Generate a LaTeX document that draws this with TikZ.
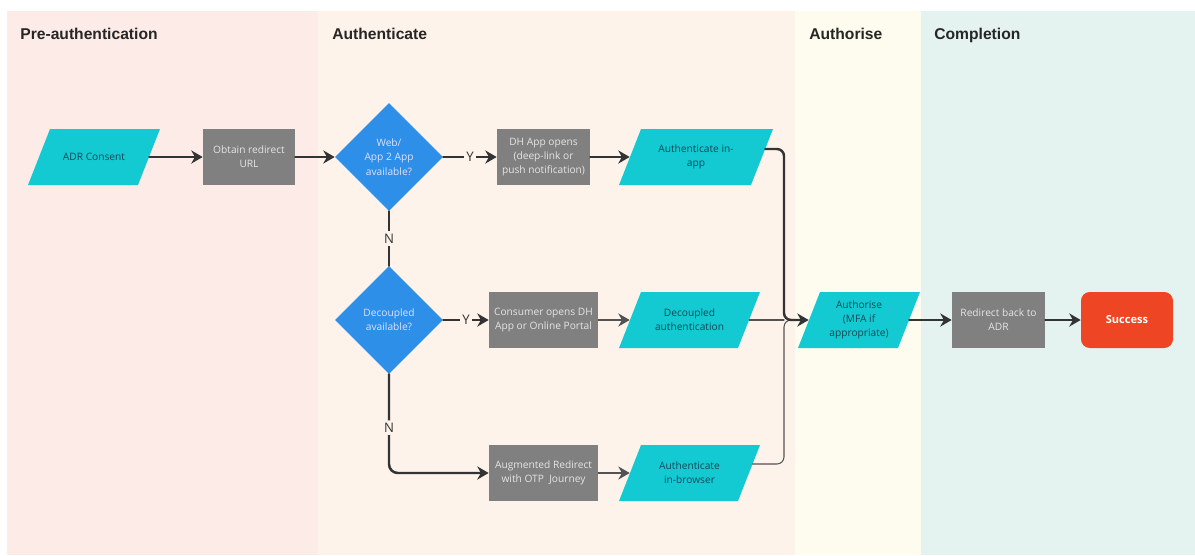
\documentclass[tikz,border=0pt]{standalone}
\usepackage{fontspec}
\setmainfont{Open Sans}
\newfontfamily\headfont{Liberation Sans}
\usetikzlibrary{shapes.geometric,arrows.meta,calc}

\definecolor{preauth}{RGB}{252,235,230}
\definecolor{authn}{RGB}{253,243,234}
\definecolor{authz}{RGB}{254,252,238}
\definecolor{complete}{RGB}{228,243,240}
\definecolor{cyanbox}{RGB}{19,201,210}
\definecolor{bluebox}{RGB}{45,143,232}
\definecolor{greybox}{RGB}{128,128,128}
\definecolor{redbox}{RGB}{238,70,36}
\definecolor{tealtext}{RGB}{22,72,86}
\definecolor{arrowcol}{RGB}{51,51,51}

\begin{document}
\begin{tikzpicture}[x=0.02cm, y=-0.02cm, >={Stealth[length=6.5pt,width=7.5pt]},
	line join=round, line cap=round, font=\fontsize{5.8}{8.1}\selectfont,
	lane/.style={anchor=base west, inner sep=0pt, text=black!85, font=\headfont\bfseries\fontsize{8.9}{10}\selectfont},
	io/.style={rectangle, text=tealtext, align=center, minimum height=1.12cm, inner sep=1pt,
		path picture={\fill[cyanbox] (path picture bounding box.south west)
			-- ([xshift=-\slant]path picture bounding box.south east) -- (path picture bounding box.north east)
			-- ([xshift=\slant]path picture bounding box.north west) -- cycle;}},
	task/.style={rectangle, fill=greybox, text=white!90!black, align=center, minimum height=1.12cm, inner sep=1pt},
	ask/.style={diamond, fill=bluebox, text=white!88!blue, align=center, minimum width=2.16cm, minimum height=2.16cm, inner sep=0pt},
	done/.style={rectangle, rounded corners=5pt, fill=redbox, text=white, minimum width=1.84cm, minimum height=1.12cm,
		font=\bfseries\fontsize{6.3}{8}\selectfont},
	link/.style={draw=arrowcol, line width=1.4pt},
	flow/.style={link, ->},
	flowthin/.style={draw=arrowcol!85, line width=0.6pt},
	toio/.style={shorten >=-0.22cm},
	fromio/.style={shorten <=-0.22cm},
	yn/.style={fill=authn, text=arrowcol, inner sep=1.5pt, font=\fontsize{7.5}{9}\selectfont}]
	\useasboundingbox (0,0) rectangle (1195,555);
	\def\top{11} \def\bot{555} % lane edges
	\def\slant{0.44cm} % lean of the cyan boxes

	% lanes
	\fill[preauth] (7,\top) rectangle (318,\bot);
	\fill[authn] (318,\top) rectangle (795,\bot);
	\fill[authz] (795,\top) rectangle (921,\bot);
	\fill[complete] (921,\top) rectangle (1195,\bot);
	\node[lane] (tpre) at (20,39) {Pre-authentication};
	\node[lane] (tauthn) at (332,39) {Authenticate};
	\node[lane] (tauthz) at (809,39) {Authorise};
	\node[lane] (tdone) at (934,39) {Completion};

	\node[io, minimum width=2.64cm] (adr) at (94,157) {ADR Consent};
	\node[task, minimum width=1.84cm] (obtain) at (249,157) {Obtain redirect\\URL};
	\node[ask] (webapp) at (389,157) {Web/\\App 2 App\\available?};
	\node[task, minimum width=1.86cm] (dhapp) at (543.5,157) {DH App opens\\(deep-link or\\push notification)};
	\node[io, minimum width=3.08cm] (inapp) at (696,157) {Authenticate in-\\app};

	\node[ask] (decoup) at (389,320) {Decoupled\\available?};
	\node[task, minimum width=2.18cm] (consumer) at (543.5,320) {Consumer opens DH\\App or Online Portal};
	\node[io, minimum width=2.82cm] (decauth) at (689.5,320) {Decoupled\\authentication};
	\node[io, minimum width=2.44cm] (authorise) at (859,320) {Authorise\\(MFA if\\appropriate)};
	\node[task, minimum width=1.86cm] (redirect) at (998.5,320) {Redirect back to\\ADR};
	\node[done] (success) at (1127,320) {Success};

	\node[task, minimum width=2.18cm] (augment) at (543.5,473) {Augmented Redirect\\with OTP\ \ Journey};
	\node[io, minimum width=2.82cm] (browser) at (689.5,473) {Authenticate\\in-browser};

	\draw[flow, fromio] (adr) -- (obtain);
	\draw[flow] (obtain) -- (webapp);
	\draw[flow] (webapp) -- node[yn]{Y} (dhapp);
	\draw[flow, toio] (dhapp) -- (inapp);
	\draw[link] (webapp) -- node[yn]{N} (decoup);
	\draw[flow] (decoup) -- node[yn]{Y} (consumer);
	\draw[flowthin, ->, toio] (consumer) -- (decauth);
	\draw[flow, rounded corners=5pt] (decoup) |- node[yn, pos=0.27]{N} (augment);
	\draw[flowthin, ->, toio] (augment) -- (browser);

	\coordinate (merge) at (784,320);
	\draw[flowthin, fromio] (decauth) -- (merge);
	\draw[flowthin, rounded corners=4pt] ($(browser.east)+(-8,-9)$) -| (merge) -- ++(8,0);
	\draw[flow, rounded corners=4pt, toio] ($(inapp.east)+(-8,-8)$) -| (merge) -- (authorise);
	\draw[flow, fromio] (authorise) -- (redirect);
	\draw[flow] (redirect) -- (success);
\end{tikzpicture}
\end{document}
